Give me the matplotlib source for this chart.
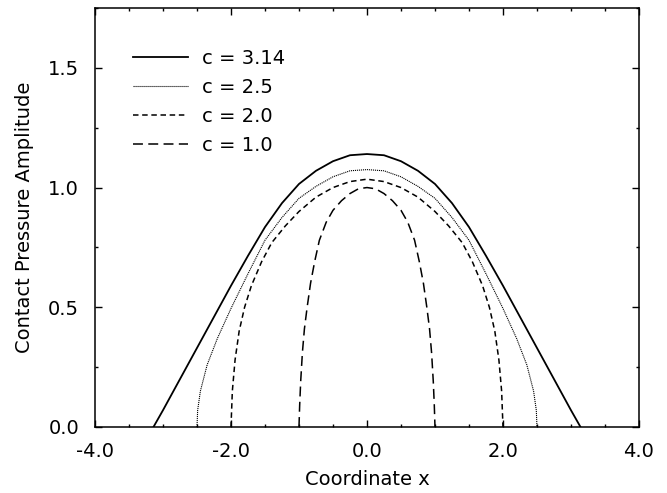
import matplotlib
matplotlib.use("Agg")
import matplotlib.pyplot as plt
from matplotlib.ticker import MultipleLocator, FormatStrFormatter

plt.rcParams['font.family'] = ['DejaVu Sans']

# values (right half; the curves are symmetric about x = 0)
x_314 = [0.0, 0.25, 0.5, 0.75, 1.0, 1.25, 1.5, 1.75, 2.0, 2.25, 2.5, 2.75, 3.0, 3.14]
y_314 = [1.14, 1.135, 1.11, 1.07, 1.015, 0.935, 0.835, 0.715, 0.59, 0.46, 0.33, 0.20, 0.07, 0.0]

x_25 = [0.0, 0.25, 0.5, 0.75, 1.0, 1.25, 1.5, 1.75, 2.0, 2.2, 2.35, 2.45, 2.49, 2.5]
y_25 = [1.075, 1.07, 1.045, 1.005, 0.955, 0.875, 0.78, 0.64, 0.495, 0.37, 0.26, 0.15, 0.07, 0.0]

x_20 = [0.0, 0.25, 0.5, 0.75, 1.0, 1.2, 1.4, 1.55, 1.7, 1.8, 1.88, 1.94, 1.98, 2.0]
y_20 = [1.035, 1.025, 1.0, 0.96, 0.90, 0.84, 0.77, 0.69, 0.59, 0.50, 0.40, 0.28, 0.15, 0.0]

x_10 = [0.0, 0.125, 0.25, 0.375, 0.5, 0.6, 0.7, 0.77, 0.83, 0.88, 0.92, 0.95, 0.975, 0.99, 1.0]
y_10 = [1.0, 0.995, 0.975, 0.945, 0.905, 0.855, 0.78, 0.69, 0.60, 0.50, 0.41, 0.31, 0.19, 0.09, 0.0]

labels = ['c = 3.14', 'c = 2.5', 'c = 2.0', 'c = 1.0']


def mirror(xs, ys):
    xx = [-v for v in xs[::-1]] + xs[1:]
    yy = ys[::-1] + ys[1:]
    return xx, yy


fig = plt.figure(figsize=(6.67, 4.93), dpi=100)
ax = fig.add_axes([0.1424, 0.1339, 0.8156, 0.8499])

xx, yy = mirror(x_314, y_314)
ax.plot(xx, yy, color='black', lw=1.3, label=labels[0])
xx, yy = mirror(x_25, y_25)
ax.plot(xx, yy, color='black', lw=0.8, dashes=(1, 0.8), label=labels[1])
xx, yy = mirror(x_20, y_20)
ax.plot(xx, yy, color='black', lw=1.1, dashes=(3.6, 2.4), label=labels[2])
xx, yy = mirror(x_10, y_10)
ax.plot(xx, yy, color='black', lw=1.1, dashes=(6.5, 3.5), label=labels[3])

ax.set_xlim(-4.0, 4.0)
ax.set_ylim(0.0, 1.75)
ax.xaxis.set_major_locator(MultipleLocator(2.0))
ax.xaxis.set_minor_locator(MultipleLocator(0.5))
ax.yaxis.set_major_locator(MultipleLocator(0.5))
ax.yaxis.set_minor_locator(MultipleLocator(0.25))
ax.xaxis.set_major_formatter(FormatStrFormatter('%.1f'))
ax.yaxis.set_major_formatter(FormatStrFormatter('%.1f'))
ax.tick_params(which='both', direction='in', top=True, right=True, labelsize=14)
ax.tick_params(which='major', length=5, width=1)
ax.tick_params(which='minor', length=2.5, width=1)
ax.tick_params(axis='x', pad=11)
ax.tick_params(axis='y', pad=11.5)
for s in ax.spines.values():
    s.set_linewidth(1.1)

ax.set_xlabel('Coordinate x', fontsize=14, labelpad=6)
ax.set_ylabel('Contact Pressure Amplitude', fontsize=14, labelpad=10)

ax.legend(loc='upper left', bbox_to_anchor=(0.07, 0.903), frameon=False,
          fontsize=14, handlelength=2.83, handletextpad=0.7,
          labelspacing=0.52, borderpad=0, borderaxespad=0)

fig.savefig('out.png', dpi=100)
